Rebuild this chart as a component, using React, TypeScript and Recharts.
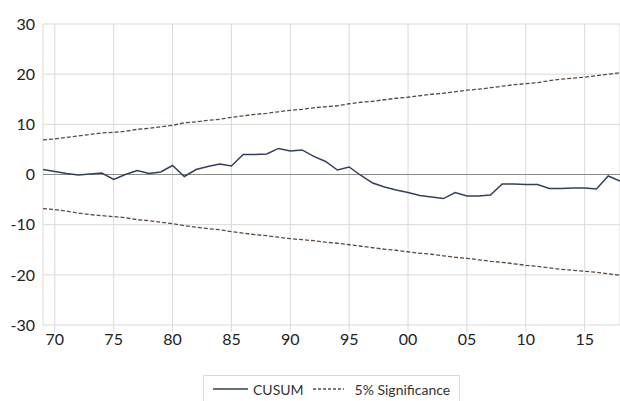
import * as React from 'react';
import { LineChart, Line, XAxis, YAxis, CartesianGrid, ReferenceLine, Legend } from 'recharts';

const years = [
  1969, 1970, 1971, 1972, 1973, 1974, 1975, 1976, 1977, 1978,
  1979, 1980, 1981, 1982, 1983, 1984, 1985, 1986, 1987, 1988,
  1989, 1990, 1991, 1992, 1993, 1994, 1995, 1996, 1997, 1998,
  1999, 2000, 2001, 2002, 2003, 2004, 2005, 2006, 2007, 2008,
  2009, 2010, 2011, 2012, 2013, 2014, 2015, 2016, 2017, 2018,
];

const cusum = [
  1.0, 0.6, 0.2, -0.1, 0.1, 0.3, -1.0, 0.0, 0.8, 0.2,
  0.5, 1.8, -0.4, 1.0, 1.6, 2.1, 1.7, 4.0, 4.0, 4.1,
  5.2, 4.7, 4.9, 3.6, 2.6, 0.9, 1.5, -0.2, -1.7, -2.5,
  -3.1, -3.6, -4.2, -4.5, -4.8, -3.6, -4.3, -4.3, -4.1, -1.9,
  -1.9, -2.0, -2.0, -2.8, -2.8, -2.7, -2.7, -2.9, -0.3, -1.3,
];

const upper5 = [
  6.9, 7.1, 7.4, 7.7, 8.0, 8.3, 8.4, 8.6, 9.0, 9.2,
  9.5, 9.8, 10.3, 10.5, 10.8, 11.0, 11.4, 11.7, 12.0, 12.2,
  12.5, 12.8, 13.0, 13.3, 13.5, 13.7, 14.1, 14.4, 14.6, 14.9,
  15.2, 15.4, 15.7, 16.0, 16.2, 16.5, 16.8, 17.0, 17.3, 17.6,
  17.9, 18.1, 18.3, 18.7, 19.0, 19.2, 19.4, 19.7, 20.0, 20.3,
];

const lower5 = [
  -6.8, -7.0, -7.3, -7.7, -8.0, -8.2, -8.4, -8.6, -9.0, -9.2,
  -9.5, -9.8, -10.2, -10.5, -10.8, -11.0, -11.4, -11.7, -12.0, -12.2,
  -12.5, -12.8, -13.0, -13.2, -13.5, -13.7, -14.0, -14.3, -14.6, -14.9,
  -15.1, -15.4, -15.7, -15.9, -16.2, -16.5, -16.7, -17.0, -17.3, -17.5,
  -17.8, -18.1, -18.3, -18.6, -18.9, -19.1, -19.3, -19.5, -19.8, -20.1,
];

const xTicks = [1970, 1975, 1980, 1985, 1990, 1995, 2000, 2005, 2010, 2015];
const yTicks = [-30, -20, -10, 0, 10, 20, 30];

const data = years.map((year, i) => ({
  year,
  cusum: cusum[i],
  upper: upper5[i],
  lower: lower5[i],
}));

const FONT = 'Lato, "Open Sans", sans-serif';
const CUSUM_COLOR = '#34405a';
const SIG_COLOR = '#5b4a3c';

function LegendBox() {
  return (
    <div style={{ display: 'flex', justifyContent: 'flex-start', paddingLeft: 203 }}>
      <div
        style={{
          display: 'flex',
          alignItems: 'center',
          whiteSpace: 'nowrap',
          border: '1px solid #d9d9d9',
          height: 28,
          boxSizing: 'border-box',
          padding: '0 9px',
          fontFamily: FONT,
          fontSize: 14,
          color: '#333',
        }}
      >
        <svg width={35} height={10} style={{ marginRight: 5, flexShrink: 0 }}>
          <line x1={0} y1={5} x2={35} y2={5} stroke={CUSUM_COLOR} strokeWidth={1.5} />
        </svg>
        <span style={{ marginRight: 9 }}>CUSUM</span>
        <svg width={31} height={10} style={{ marginRight: 11, flexShrink: 0 }}>
          <line x1={0} y1={5} x2={31} y2={5} stroke={SIG_COLOR} strokeWidth={1.3} strokeDasharray="3 2" />
        </svg>
        <span>5% Significance</span>
      </div>
    </div>
  );
}

export default function App() {
  return (
    <div style={{ position: 'absolute', left: 0, top: 0, width: 620, height: 401, background: '#fff', overflow: 'hidden' }}>
      <LineChart width={620} height={401} data={data} margin={{ top: 24, right: 0, left: 0, bottom: 0 }}>
        <CartesianGrid stroke="#d9d9d9" strokeWidth={1} />
        <XAxis
          dataKey="year"
          type="number"
          domain={[1969, 2018]}
          ticks={xTicks}
          tickFormatter={(v: number) => String(v).slice(2)}
          axisLine={false}
          tickLine={{ stroke: '#d9d9d9' }}
          tickSize={7}
          height={48}
          tick={{ fill: '#222', fontSize: 16, fontFamily: FONT }}
          interval={0}
        />
        <YAxis
          domain={[-30, 30]}
          ticks={yTicks}
          width={43}
          axisLine={false}
          tickLine={false}
          tick={{ fill: '#222', fontSize: 16, fontFamily: FONT }}
          interval={0}
        />
        <ReferenceLine y={0} stroke="#8c8c8c" strokeWidth={1} />
        <Line type="linear" dataKey="upper" stroke={SIG_COLOR} strokeWidth={1.3} strokeDasharray="4 2" dot={false} isAnimationActive={false} />
        <Line type="linear" dataKey="lower" stroke={SIG_COLOR} strokeWidth={1.3} strokeDasharray="4 2" dot={false} isAnimationActive={false} />
        <Line type="linear" dataKey="cusum" stroke={CUSUM_COLOR} strokeWidth={1.5} dot={false} isAnimationActive={false} />
        <Legend verticalAlign="bottom" content={() => <LegendBox />} wrapperStyle={{ bottom: -2 }} />
      </LineChart>
    </div>
  );
}
